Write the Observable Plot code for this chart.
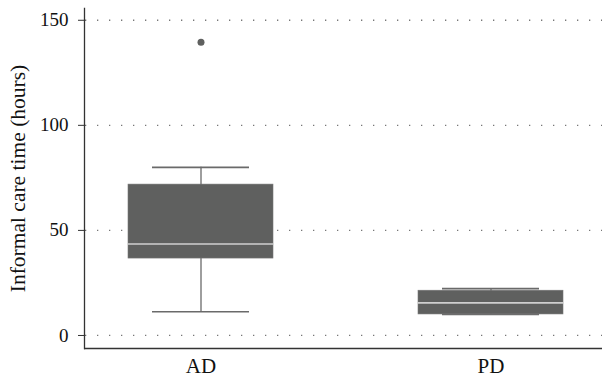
<!DOCTYPE html>
<html>
<head>
<meta charset="utf-8">
<script src="https://cdn.jsdelivr.net/npm/d3@7"></script>
<script src="https://cdn.jsdelivr.net/npm/@observablehq/plot@0.6"></script>
<style>
  html, body { margin: 0; padding: 0; background: #fff; }
</style>
</head>
<body>
<div id="chart"></div>
<script>
// Summary statistics
const groups = ["AD", "PD"];
const lowerWhisker = [11.3, 10];
const q1 = [36.6, 10];
const median = [43.5, 15.5];
const q3 = [71.8, 21.3];
const upperWhisker = [80, 22.3];
const outlierGroup = ["AD"];
const outlierValue = [139.5];
const yTicks = [0, 50, 100, 150];
const yLabel = "Informal care time (hours)";

const stats = groups.map((g, i) => ({
  group: g, lo: lowerWhisker[i], q1: q1[i], median: median[i], q3: q3[i], hi: upperWhisker[i]
}));
const outliers = outlierGroup.map((g, i) => ({group: g, value: outlierValue[i]}));

const font = "'Liberation Serif', 'DejaVu Serif', serif";
const ymin = -6.2, ymax = 155.6;

const chart = Plot.plot({
  width: 602,
  height: 378,
  marginLeft: 84,
  marginRight: 0,
  marginTop: 8,
  marginBottom: 30,
  style: {fontFamily: font, fontSize: "18px", color: "#111", background: "#fff"},
  x: {type: "band", domain: groups, range: [84, 606], paddingInner: 0.5, paddingOuter: 0.15, label: null},
  y: {domain: [ymin, ymax], label: null},
  marks: [
    Plot.ruleY(yTicks, {stroke: "#777", strokeWidth: 1.3, strokeDasharray: "1.3,10.7", strokeDashoffset: -13}),
    Plot.ruleX(stats, {x: "group", y1: "lo", y2: "hi", stroke: "#6a6a6a", strokeWidth: 1.3}),
    Plot.tickY(stats, {x: "group", y: "lo", stroke: "#6a6a6a", strokeWidth: 1.6, insetLeft: 24, insetRight: 24}),
    Plot.tickY(stats, {x: "group", y: "hi", stroke: "#6a6a6a", strokeWidth: 1.6, insetLeft: 24, insetRight: 24}),
    Plot.barY(stats, {x: "group", y1: "q1", y2: "q3", fill: "#5f605f", stroke: "#777", strokeWidth: 0.6}),
    Plot.tickY(stats, {x: "group", y: "median", stroke: "#cfcfcf", strokeWidth: 1.6}),
    Plot.dot(outliers, {x: "group", y: "value", r: 3.5, fill: "#5f605f", stroke: null}),
    Plot.axisY({ticks: yTicks, tickSize: 6, tickPadding: 10, stroke: "#333", label: null,
      fontSize: 19, fill: "#111"}),
    Plot.text([yLabel], {frameAnchor: "left", textAnchor: "middle", lineAnchor: "middle",
      rotate: -90, dx: -66, fontSize: 21.5, fill: "#111"}),
    Plot.axisX({tickSize: 0, tickPadding: 10, fontSize: 21, fill: "#111"}),
    Plot.ruleY([ymin], {stroke: "#333", strokeWidth: 1.3}),
    Plot.frame({anchor: "left", stroke: "#333", strokeWidth: 1.3})
  ]
});
document.getElementById("chart").appendChild(chart);
</script>
</body>
</html>
